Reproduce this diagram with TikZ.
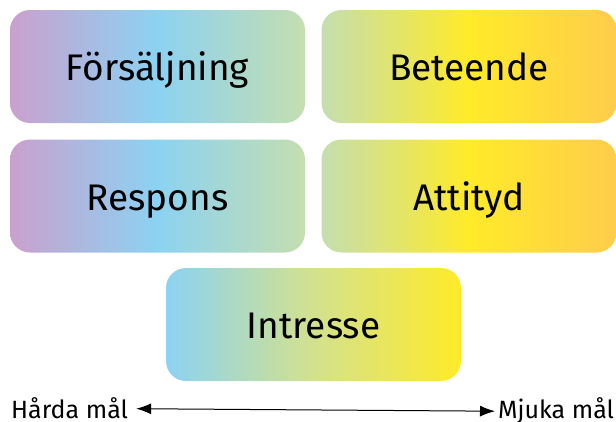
\documentclass[tikz,border=0pt]{standalone}
\usepackage{fontspec}
\setmainfont{Fira Sans}
\usetikzlibrary{arrows.meta}
\definecolor{cpink}{RGB}{202,160,206}
\definecolor{cblue}{RGB}{140,210,242}
\definecolor{cgreen}{RGB}{196,222,176}
\definecolor{cyellow}{RGB}{255,235,40}
\definecolor{corange}{RGB}{254,204,76}
\tikzset{
  goalbox/.style={rounded corners=20pt, minimum width=295pt, minimum height=113pt,
    inner sep=0pt, text height=28pt, text depth=0pt,
    font=\fontsize{37}{42}\selectfont, text=black},
  leftbox/.style={goalbox, left color=cpink, right color=cgreen, middle color=cblue},
  rightbox/.style={goalbox, left color=cgreen, right color=corange, middle color=cyellow},
  midbox/.style={goalbox, left color=cblue, right color=cyellow, middle color=cgreen!75!cyellow},
  scalelbl/.style={font=\fontsize{25}{29}\selectfont, inner sep=0pt}
}
\begin{document}
\begin{tikzpicture}[x=1pt,y=-1pt]
\useasboundingbox (0,0) rectangle (616,421);
\node[leftbox] (fors) at (157.5,66.5) {Försäljning};
\node[rightbox] (bet) at (469,66.5) {Beteende};
\node[leftbox] (resp) at (157.5,196) {Respons};
\node[rightbox] (att) at (469,196) {Attityd};
\node[midbox] (intr) at (313.5,324.5) {Intresse};
\node[scalelbl, anchor=base west] (hard) at (11,418) {Hårda mål};
\node[scalelbl, anchor=base west] (mjuk) at (498,418) {Mjuka mål};
\draw[{Latex[length=15pt,width=11pt]}-{Latex[length=15pt,width=11pt]}, line width=1pt]
  ([xshift=8pt,yshift=-1pt]hard.east) -- ([xshift=-3pt,yshift=-1pt]mjuk.west);
\end{tikzpicture}
\end{document}
